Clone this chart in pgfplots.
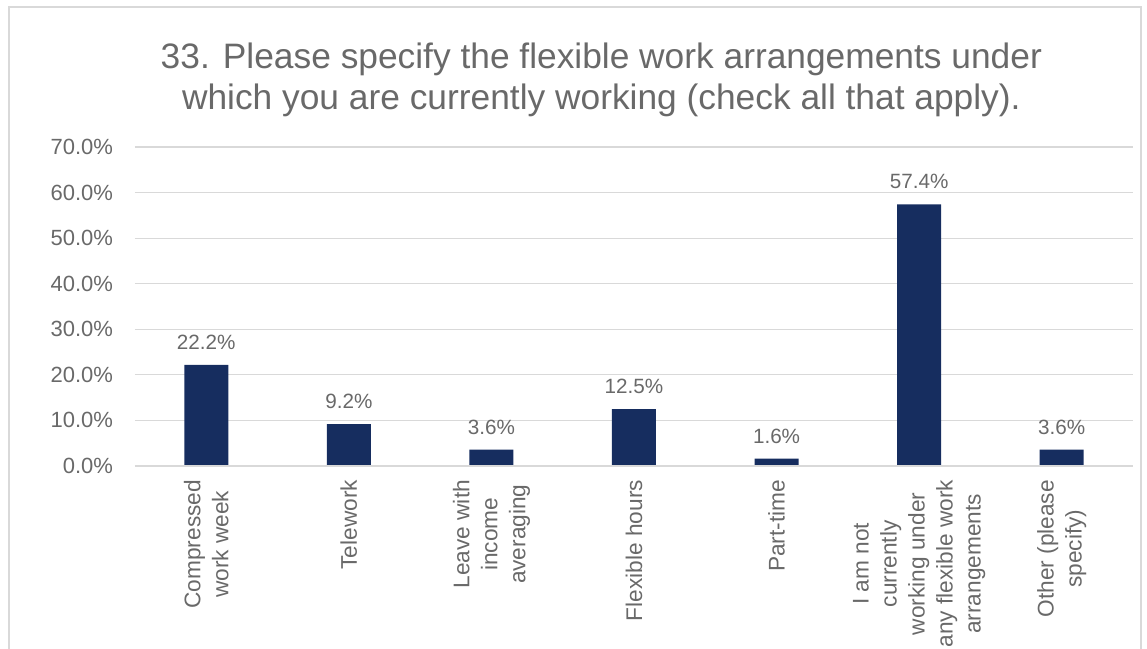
\documentclass[border=0pt]{standalone}
\usepackage{pgfplots}
\pgfplotsset{compat=1.18}
\usepackage{fontspec}
\setmainfont{Liberation Sans}

\definecolor{barnavy}{RGB}{22,45,95}
\definecolor{txtgray}{RGB}{105,105,105}
\definecolor{gridgray}{RGB}{217,217,217}
\definecolor{framegray}{RGB}{217,217,217}

\pgfplotstableread[col sep=comma]{
x,val
0,22.2
1,9.2
2,3.6
3,12.5
4,1.6
5,57.4
6,3.6
}\flexdata

\begin{document}
\begin{tikzpicture}
    \useasboundingbox (0pt,0pt) rectangle (860.25pt,486.75pt);
    \draw[framegray, line width=1.2pt] (6.75pt,-15pt) -- (6.75pt,481.5pt) -- (855.75pt,481.5pt) -- (855.75pt,-15pt);

    \node[txtgray, font=\fontsize{26.5}{31}\selectfont, align=center] at (451pt,427pt)
        {33. Please specify the flexible work arrangements under\\which you are currently working (check all that apply).};

    \begin{axis}[
        at={(101.25pt,137.25pt)}, anchor=south west,
        scale only axis,
        width=748.5pt, height=239.25pt,
        xmin=-0.5, xmax=6.5,
        ymin=0, ymax=70,
        ybar, bar width=33pt,
        axis line style={draw=none},
        axis x line*=bottom,
        ymajorgrids, grid style={gridgray, line width=0.9pt},
        major tick length=0pt,
        ytick={0,10,...,70},
        yticklabel={\pgfmathprintnumber[fixed,fixed zerofill,precision=1]{\tick}\%},
        yticklabel style={txtgray, font=\fontsize{16.5}{19}\selectfont, xshift=-13pt},
        /pgf/number format/assume math mode=true,
        xtick=data,
        xticklabels={
            Compressed\\work week,
            Telework,
            Leave with\\income\\averaging,
            Flexible hours,
            Part-time,
            I am not\\currently\\working under\\any flexible work\\arrangements,
            Other (please\\specify)},
        xticklabel style={txtgray, rotate=90, anchor=east, align=center,
            font=\fontsize{17}{21}\selectfont, xshift=-7pt},
        nodes near coords={\pgfmathprintnumber[fixed,fixed zerofill,precision=1]{\pgfplotspointmeta}\%},
        nodes near coords style={txtgray, font=\fontsize{15.5}{18}\selectfont, yshift=8pt},
        clip=false,
    ]
        \addplot[fill=barnavy, draw=none] table[x=x, y=val] {\flexdata};
        \draw[gridgray, line width=1.2pt] (axis cs:-0.5,0) -- (axis cs:6.5,0);
    \end{axis}
\end{tikzpicture}
\end{document}
